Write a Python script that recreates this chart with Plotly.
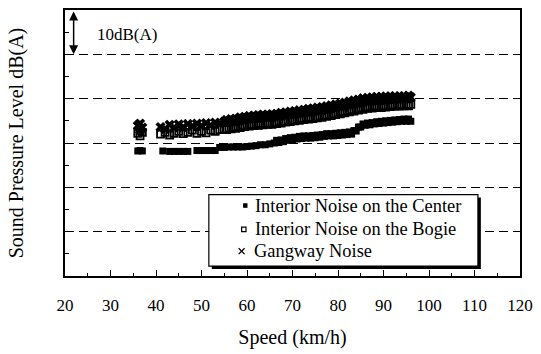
import plotly.graph_objects as go

# Interior noise at the car-body centre, dB(A) versus train speed (km/h)
center_speed = [36, 36.5, 37, 41.5, 43, 44, 45, 46, 47, 49, 50, 51, 52, 53, 54, 55, 56, 57, 58,
                59, 60, 61, 62, 63, 64, 65, 66, 67, 68, 69, 70, 71, 72, 73, 74, 75, 76, 77, 78,
                79, 80, 81, 82, 83, 84, 85, 86, 87, 88, 89, 90, 91, 92, 93, 94, 95, 96,
                66.5, 67.5, 68.5, 69.5, 70.5, 71.5, 72.5, 73.5, 74.5, 75.5, 76.5, 77.5, 78.5,
                79.5, 80.5, 81.5, 82.5, 83.5, 84.5, 85.5, 86.5, 87.5, 88.5, 89.5, 90.5, 91.5,
                92.5, 93.5, 94.5, 95.5]
center_level = [68.2, 68.3, 68.2, 68.2, 68.1, 68.1, 68.1, 68.1, 68.1, 68.3, 68.3, 68.3, 68.3,
                68.3, 69.0, 69.0, 69.1, 69.1, 69.1, 69.1, 69.2, 69.3, 69.4, 69.6, 69.6, 69.8,
                70.0, 70.1, 70.3, 70.6, 70.7, 70.9, 71.0, 71.1, 71.1, 71.2, 71.3, 71.5, 71.6,
                71.6, 71.7, 71.8, 71.9, 72.0, 72.7, 73.6, 74.0, 74.1, 74.3, 74.4, 74.5, 74.6,
                74.7, 74.8, 74.9, 74.9, 74.9,
                70.6, 70.7, 71.0, 71.2, 71.3, 71.5, 71.6, 71.6, 71.7, 71.8, 71.9, 72.1, 72.1,
                72.2, 72.3, 72.4, 72.5, 72.8, 73.6, 74.3, 74.5, 74.6, 74.8, 74.9, 75.0, 75.1,
                75.2, 75.3, 75.4, 75.4]

# Interior noise above the bogie
bogie_speed = [36, 36.5, 37, 36.5, 41, 42, 43, 44, 45, 46, 47, 48, 49, 50, 51, 52, 53, 54, 55,
               56, 57, 58, 59, 60, 61, 62, 63, 64, 65, 66, 67, 68, 69, 70, 71, 72, 73, 74, 75,
               76, 77, 78, 79, 80, 81, 82, 83, 84, 85, 86, 87, 88, 89, 90, 91, 92, 93, 94, 95, 96,
               55.5, 56.5, 57.5, 58.5, 59.5, 60.5, 61.5, 62.5, 63.5, 64.5, 65.5, 66.5, 67.5,
               68.5, 69.5, 70.5, 71.5, 72.5, 73.5, 74.5, 75.5, 76.5, 77.5, 78.5, 79.5, 80.5,
               81.5, 82.5, 83.5, 84.5, 85.5, 86.5, 87.5, 88.5, 89.5, 90.5, 91.5, 92.5, 93.5,
               94.5, 95.5]
bogie_level = [72.2, 71.6, 72.4, 72.8, 72.0, 72.4, 71.8, 72.2, 72.6, 72.1, 72.4, 72.9, 72.2,
               72.6, 72.3, 72.9, 72.6, 73.0, 73.2, 73.4, 73.6, 73.7, 73.9, 74.1, 74.2, 74.3,
               74.4, 74.5, 74.5, 74.6, 74.8, 74.9, 75.1, 75.2, 75.4, 75.5, 75.7, 75.8, 75.9,
               76.1, 76.2, 76.4, 76.6, 76.8, 77.1, 77.3, 77.5, 77.7, 77.9, 78.1, 78.2, 78.3,
               78.3, 78.4, 78.5, 78.6, 78.6, 78.6, 78.7, 78.7,
               73.0, 73.2, 73.3, 73.5, 73.7, 73.8, 73.9, 74.0, 74.1, 74.2, 74.2, 74.4, 74.5,
               74.7, 74.8, 75.0, 75.1, 75.3, 75.4, 75.5, 75.7, 75.8, 76.0, 76.2, 76.4, 76.6,
               76.8, 77.0, 77.2, 77.4, 77.6, 77.8, 77.9, 78.0, 78.0, 78.1, 78.2, 78.3, 78.3,
               78.4, 78.4]

# Gangway noise
gangway_speed = [36, 36.5, 37, 36.5, 41, 42, 43, 44, 45, 46, 47, 48, 49, 50, 51, 52, 53, 54, 55,
                 56, 57, 58, 59, 60, 61, 62, 63, 64, 65, 66, 67, 68, 69, 70, 71, 72, 73, 74, 75,
                 76, 77, 78, 79, 80, 81, 82, 83, 84, 85, 86, 87, 88, 89, 90, 91, 92, 93, 94, 95, 96,
                 55.5, 56.5, 57.5, 58.5, 59.5, 60.5, 61.5, 62.5, 63.5, 64.5, 65.5, 66.5, 67.5,
                 68.5, 69.5, 70.5, 71.5, 72.5, 73.5, 74.5, 75.5, 76.5, 77.5, 78.5, 79.5, 80.5,
                 81.5, 82.5, 83.5, 84.5, 85.5, 86.5, 87.5, 88.5, 89.5, 90.5, 91.5, 92.5, 93.5,
                 94.5, 95.5]
gangway_level = [73.9, 74.4, 73.5, 73.0, 73.6, 73.2, 74.1, 73.5, 74.2, 73.6, 74.3, 73.8, 74.4,
                 73.9, 74.5, 74.0, 74.6, 74.4, 74.8, 74.9, 75.1, 75.3, 75.5, 75.7, 75.8, 75.9,
                 76.0, 76.0, 76.1, 76.2, 76.3, 76.5, 76.6, 76.8, 76.9, 77.1, 77.2, 77.4, 77.5,
                 77.7, 77.8, 78.0, 78.2, 78.4, 78.6, 78.8, 79.1, 79.3, 79.5, 79.7, 79.7, 79.9,
                 79.9, 80.0, 80.1, 80.1, 80.1, 80.2, 80.2, 80.3,
                 75.2, 75.4, 75.5, 75.8, 75.9, 76.1, 76.2, 76.3, 76.4, 76.4, 76.5, 76.6, 76.8,
                 76.9, 77.1, 77.2, 77.4, 77.5, 77.7, 77.8, 78.0, 78.1, 78.3, 78.5, 78.7, 78.9,
                 79.1, 79.4, 79.6, 79.8, 80.1, 80.2, 80.3, 80.4, 80.4, 80.5, 80.5, 80.6, 80.5,
                 80.6, 80.7]

legend_names = ["Interior Noise on the Center", "Interior Noise on the Bogie", "Gangway Noise"]
x_ticks = [20, 30, 40, 50, 60, 70, 80, 90, 100, 110, 120]

SERIF = "Liberation Serif"
INK = "#000000"

# plot-area geometry in pixels (figure is 541 x 354)
W, H = 541, 354
L, R, T, B = 65, 11, 8, 78
PW, PH = W - L - R, H - T - B


def px(x):
    """pixel column -> paper x"""
    return (x - L) / PW


def py(y):
    """pixel row (from top) -> paper y"""
    return (H - B - y) / PH


fig = go.Figure()

# data clouds
fig.add_trace(go.Scatter(x=bogie_speed, y=bogie_level, mode="markers", name=legend_names[1],
                         showlegend=False,
                         marker=dict(symbol="square-open", size=7, color=INK,
                                     line=dict(width=1.8, color=INK))))
fig.add_trace(go.Scatter(x=gangway_speed, y=gangway_level, mode="markers", name=legend_names[2],
                         showlegend=False,
                         marker=dict(symbol="x", size=9, color=INK, line=dict(width=0))))
fig.add_trace(go.Scatter(x=center_speed, y=center_level, mode="markers", name=legend_names[0],
                         showlegend=False,
                         marker=dict(symbol="square", size=7, color=INK, line=dict(width=0))))

fig.update_layout(
    width=W, height=H,
    margin=dict(l=L, r=R, t=T, b=B),
    paper_bgcolor="white", plot_bgcolor="white",
    font=dict(family=SERIF, color=INK, size=17),
    showlegend=False,
)

fig.update_xaxes(
    range=[20, 120], tickvals=x_ticks, ticktext=[str(v) for v in x_ticks],
    showline=True, linecolor=INK, linewidth=1.5, mirror=True,
    ticks="inside", ticklen=6, tickwidth=1.3, tickcolor=INK,
    minor=dict(dtick=5, ticks="inside", ticklen=3, tickwidth=1.2, tickcolor=INK, showgrid=False),
    showgrid=False, zeroline=False, ticklabeloverflow="allow",
    tickfont=dict(family=SERIF, size=17), ticklabelstandoff=13,
    title=dict(text="Speed (km/h)", font=dict(family=SERIF, size=20), standoff=16),
)

fig.update_yaxes(
    range=[40, 100], dtick=10, showticklabels=False,
    showline=True, linecolor=INK, linewidth=1.5, mirror=True,
    ticks="inside", ticklen=4, tickwidth=1.2, tickcolor=INK,
    minor=dict(dtick=5, ticks="inside", ticklen=4, tickwidth=1.2, tickcolor=INK, showgrid=False),
    showgrid=True, gridcolor=INK, gridwidth=1.3, griddash="9px,5px",
    zeroline=False,
    title=dict(text="Sound Pressure Level dB(A)", font=dict(family=SERIF, size=20), standoff=34),
)

# 10 dB(A) scale marker
fig.add_annotation(x=21.9, y=90, ax=21.9, ay=100, xref="x", yref="y", axref="x", ayref="y",
                   text="", showarrow=True, arrowhead=2, startarrowhead=2,
                   arrowside="end+start", arrowsize=1.2, arrowwidth=1.5, arrowcolor=INK)
fig.add_annotation(x=26.7, y=94.4, xref="x", yref="y", text="10dB(A)", showarrow=False,
                   xanchor="left", yanchor="middle", font=dict(family=SERIF, size=17))

# legend panel: drop shadow, framed box, keys and labels
box = (212, 194, 487, 266)
shadow = 3
fig.add_shape(type="rect", xref="paper", yref="paper", layer="above",
              x0=px(box[0] + shadow), x1=px(box[2] + shadow),
              y0=py(box[3] + shadow), y1=py(box[1] + shadow),
              fillcolor=INK, line=dict(width=0))
fig.add_shape(type="rect", xref="paper", yref="paper", layer="above",
              x0=px(box[0]), x1=px(box[2]), y0=py(box[3]), y1=py(box[1]),
              fillcolor="white", line=dict(color=INK, width=1.2))

row_y = [205, 229, 251]
text_x = [258, 258, 257]

# key: filled square
fig.add_shape(type="rect", xref="paper", yref="paper", layer="above",
              x0=px(247), x1=px(251.5), y0=py(row_y[0] + 2.3), y1=py(row_y[0] - 2.3),
              fillcolor=INK, line=dict(width=0))
# key: open square
fig.add_shape(type="rect", xref="paper", yref="paper", layer="above",
              x0=px(245.5), x1=px(250), y0=py(row_y[1] + 2.3), y1=py(row_y[1] - 2.3),
              fillcolor="white", line=dict(color=INK, width=1.2))
# key: cross
for (xa, ya, xb, yb) in [(242.5, row_y[2] - 3, 248.5, row_y[2] + 3),
                         (242.5, row_y[2] + 3, 248.5, row_y[2] - 3)]:
    fig.add_shape(type="line", xref="paper", yref="paper", layer="above",
                  x0=px(xa), y0=py(ya), x1=px(xb), y1=py(yb),
                  line=dict(color=INK, width=1.3))

for name, ry, tx in zip(legend_names, row_y, text_x):
    fig.add_annotation(x=px(tx), y=py(ry), xref="paper", yref="paper", text=name,
                       showarrow=False, xanchor="left", yanchor="middle",
                       font=dict(family=SERIF, size=18.4, color=INK), borderpad=0)

fig.write_html("out.html")
